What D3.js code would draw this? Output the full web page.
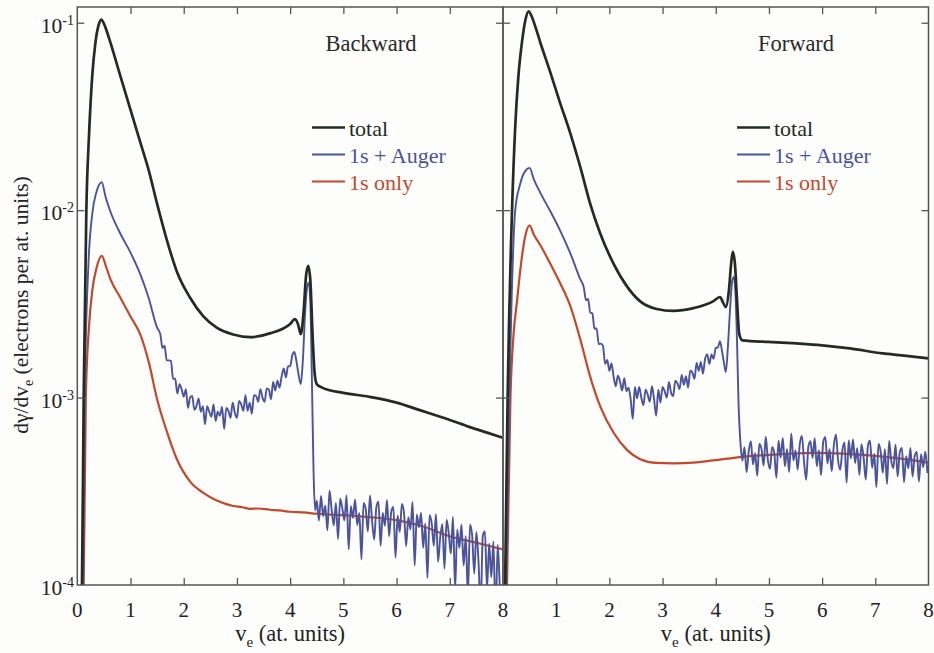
<!DOCTYPE html>
<html>
<head>
<meta charset="utf-8">
<script src="https://cdn.jsdelivr.net/npm/d3@7"></script>
<style>
  body { margin: 0; background: #fdfdfb; }
  svg { display: block; }
</style>
</head>
<body>
<svg id="chart" width="934" height="653" font-family="'Liberation Serif', 'DejaVu Serif', serif"></svg>
<script>
// ---- data ----
const xTicks = [0, 1, 2, 3, 4, 5, 6, 7, 8];
const yTicks = [1e-4, 1e-3, 1e-2, 1e-1];
const yExponents = ['-4', '-3', '-2', '-1'];
const panelTitles = ['Backward', 'Forward'];
const legendLabels = ['total', '1s + Auger', '1s only'];

// Backward
const backTotal = [
  [0.05, 5e-5], [0.088, 1e-4], [0.12, 1e-3], [0.17, 1e-2], [0.22, 0.025], [0.28, 0.0516],
  [0.34, 0.078], [0.40, 0.097], [0.45, 0.104], [0.50, 0.099], [0.56, 0.089], [0.62, 0.0787],
  [0.81, 0.0519], [1.0, 0.0343], [1.19, 0.0227], [1.34, 0.0164], [1.5, 0.0108], [1.69, 0.00682],
  [1.87, 0.00471], [2.12, 0.00341], [2.37, 0.00271], [2.62, 0.00236], [2.93, 0.00217],
  [3.25, 0.0021], [3.62, 0.0022], [4.0, 0.00247], [4.09, 0.00262], [4.15, 0.00245], [4.2, 0.00218],
  [4.25, 0.0028], [4.3, 0.0045], [4.34, 0.00505], [4.38, 0.0042], [4.42, 0.0022], [4.46, 0.00135],
  [4.5, 0.00118], [4.6, 0.00113], [5.0, 0.00106], [5.48, 0.00101], [6.0, 0.00094], [6.42, 0.00086],
  [7.0, 0.00076], [7.35, 0.0007], [7.7, 0.00065], [8.0, 0.00061]
];
const backAuger = [
  [0.05, 5e-5], [0.107, 1e-4], [0.14, 1e-3], [0.21, 5.2e-3], [0.28, 9.5e-3], [0.36, 0.0125],
  [0.46, 0.0141], [0.53, 0.0118], [0.62, 0.00986], [0.81, 0.00748], [1.0, 0.00594], [1.19, 0.0045],
  [1.34, 0.00341], [1.5, 0.00236],
  [1.56, 2.18e-3], [1.60, 1.84e-3], [1.64, 1.89e-3], [1.68, 1.58e-3], [1.72, 1.58e-3], [1.76, 1.57e-3],
  [1.80, 1.26e-3], [1.84, 1.26e-3], [1.88, 1.05e-3], [1.92, 1.18e-3], [1.96, 1.11e-3], [2.00, 1.01e-3],
  [2.04, 1.11e-3], [2.08, 0.88e-3], [2.12, 1.00e-3], [2.16, 1.02e-3], [2.20, 0.86e-3], [2.24, 0.90e-3],
  [2.28, 0.99e-3], [2.32, 0.84e-3], [2.36, 0.90e-3], [2.40, 0.72e-3], [2.44, 0.90e-3], [2.48, 0.84e-3],
  [2.52, 0.79e-3], [2.56, 0.92e-3], [2.60, 0.75e-3], [2.64, 0.84e-3], [2.68, 0.80e-3], [2.72, 0.89e-3],
  [2.76, 0.68e-3], [2.80, 0.88e-3], [2.84, 0.85e-3], [2.88, 0.78e-3], [2.92, 0.94e-3], [2.96, 0.83e-3],
  [3.00, 0.78e-3], [3.04, 0.96e-3], [3.08, 0.92e-3], [3.12, 0.85e-3], [3.16, 1.03e-3], [3.20, 0.85e-3],
  [3.24, 0.94e-3], [3.28, 0.82e-3], [3.32, 1.03e-3], [3.36, 1.02e-3], [3.40, 0.95e-3], [3.44, 1.11e-3],
  [3.48, 1.00e-3], [3.52, 0.95e-3], [3.56, 1.12e-3], [3.60, 1.10e-3], [3.64, 0.98e-3], [3.68, 1.21e-3],
  [3.72, 1.09e-3], [3.76, 1.23e-3], [3.80, 1.13e-3], [3.84, 1.30e-3], [3.88, 1.43e-3], [3.92, 1.28e-3],
  [3.96, 1.47e-3], [4.00, 1.47e-3], [4.04, 1.68e-3], [4.08, 1.75e-3], [4.12, 1.55e-3], [4.16, 1.32e-3],
  [4.20, 1.18e-3], [4.24, 1.6e-3], [4.28, 2.8e-3], [4.32, 3.9e-3], [4.35, 4.1e-3], [4.38, 3.2e-3],
  [4.41, 1.2e-3], [4.44, 4.0e-4], [4.47, 2.5e-4],
  [4.50, 2.82e-4], [4.54, 2.21e-4], [4.58, 2.99e-4], [4.62, 2.33e-4], [4.66, 2.65e-4], [4.70, 1.96e-4],
  [4.74, 3.19e-4], [4.78, 2.52e-4], [4.82, 2.08e-4], [4.86, 2.74e-4], [4.90, 1.76e-4], [4.94, 2.89e-4],
  [4.98, 2.57e-4], [5.02, 2.21e-4], [5.06, 3.00e-4], [5.10, 1.55e-4], [5.14, 2.63e-4], [5.18, 2.28e-4],
  [5.22, 2.86e-4], [5.26, 2.09e-4], [5.30, 2.42e-4], [5.34, 1.37e-4], [5.38, 2.74e-4], [5.42, 2.54e-4],
  [5.46, 1.93e-4], [5.50, 3.00e-4], [5.54, 2.20e-4], [5.58, 1.75e-4], [5.62, 2.60e-4], [5.66, 2.78e-4],
  [5.70, 1.62e-4], [5.74, 2.42e-4], [5.78, 2.07e-4], [5.82, 2.84e-4], [5.86, 1.82e-4], [5.90, 2.46e-4],
  [5.94, 2.61e-4], [5.98, 1.40e-4], [6.02, 2.34e-4], [6.06, 1.92e-4], [6.10, 2.71e-4], [6.14, 2.42e-4],
  [6.18, 1.61e-4], [6.22, 2.30e-4], [6.26, 1.98e-4], [6.30, 2.77e-4], [6.34, 1.27e-4], [6.38, 2.38e-4],
  [6.42, 2.03e-4], [6.46, 2.42e-4], [6.50, 1.58e-4], [6.54, 2.13e-4], [6.58, 1.09e-4], [6.62, 2.36e-4],
  [6.66, 2.13e-4], [6.70, 1.62e-4], [6.74, 2.39e-4], [6.78, 1.33e-4], [6.82, 1.80e-4], [6.86, 2.11e-4],
  [6.90, 1.22e-4], [6.94, 2.23e-4], [6.98, 1.89e-4], [7.02, 1.47e-4], [7.06, 2.31e-4], [7.10, 0.95e-4],
  [7.14, 1.98e-4], [7.18, 1.58e-4], [7.22, 2.10e-4], [7.26, 1.27e-4], [7.30, 1.82e-4], [7.34, 0.87e-4],
  [7.38, 2.10e-4], [7.42, 1.84e-4], [7.46, 1.15e-4], [7.50, 1.92e-4], [7.54, 1.33e-4], [7.58, 0.74e-4],
  [7.62, 1.83e-4], [7.66, 1.93e-4], [7.70, 0.96e-4], [7.74, 1.66e-4], [7.78, 1.10e-4], [7.82, 1.71e-4],
  [7.86, 0.65e-4], [7.90, 1.64e-4], [7.94, 0.98e-4], [7.98, 0.60e-4], [8.0, 0.45e-4]
];
const backOnly = [
  [0.05, 5e-5], [0.12, 1e-4], [0.16, 1e-3], [0.22, 2.4e-3], [0.28, 3.7e-3], [0.36, 4.9e-3],
  [0.46, 5.7e-3], [0.54, 5.0e-3], [0.62, 4.3e-3], [0.81, 3.41e-3], [1.0, 2.71e-3], [1.19, 2.15e-3],
  [1.34, 1.56e-3], [1.5, 9.8e-4], [1.69, 6.5e-4], [1.87, 4.7e-4], [2.12, 3.56e-4], [2.37, 3.1e-4],
  [2.62, 2.82e-4], [2.8, 2.7e-4], [2.93, 2.64e-4], [3.1, 2.6e-4], [3.25, 2.55e-4], [3.4, 2.56e-4],
  [3.62, 2.52e-4], [3.8, 2.5e-4], [4.0, 2.46e-4], [4.25, 2.44e-4], [4.5, 2.4e-4], [5.0, 2.36e-4],
  [5.5, 2.3e-4], [6.0, 2.22e-4], [6.5, 2.05e-4], [7.0, 1.82e-4], [7.5, 1.68e-4], [8.0, 1.55e-4]
];

// Forward
const fwdTotal = [
  [0.02, 5e-5], [0.04, 1e-4], [0.087, 1e-3], [0.17, 1e-2], [0.23, 0.028], [0.29, 0.052],
  [0.36, 0.08], [0.42, 0.103], [0.48, 0.115], [0.54, 0.108], [0.62, 0.093], [0.70, 0.0787],
  [0.89, 0.0543], [1.07, 0.0376], [1.26, 0.026], [1.45, 0.0171], [1.64, 0.0108], [1.83, 0.00748],
  [2.08, 0.00517], [2.33, 0.00392], [2.58, 0.00326], [2.89, 0.00297], [3.2, 0.0029], [3.58, 0.003],
  [3.95, 0.00326], [4.08, 0.00344], [4.14, 0.0032], [4.19, 0.00304], [4.25, 0.0038], [4.29, 0.0052],
  [4.32, 0.006], [4.36, 0.0052], [4.40, 0.0033], [4.44, 0.0022], [4.5, 0.00202], [5.0, 0.00198],
  [5.58, 0.00194], [6.0, 0.0019], [6.52, 0.00183], [7.14, 0.00172], [7.5, 0.00168], [8.0, 0.00162]
];
const fwdAuger = [
  [0.03, 5e-5], [0.06, 1e-4], [0.12, 1e-3], [0.23, 1e-2], [0.32, 0.0137], [0.42, 0.0162],
  [0.5, 0.0168], [0.58, 0.0146], [0.70, 0.0124], [0.89, 0.00986], [1.07, 0.00783], [1.26, 0.00594],
  [1.45, 0.0043],
  [1.52, 3.86e-3], [1.56, 3.31e-3], [1.60, 3.36e-3], [1.64, 2.84e-3], [1.68, 2.81e-3], [1.72, 2.33e-3],
  [1.76, 2.34e-3], [1.80, 1.93e-3], [1.84, 1.94e-3], [1.88, 1.88e-3], [1.92, 1.51e-3], [1.96, 1.59e-3],
  [2.00, 1.39e-3], [2.04, 1.52e-3], [2.08, 1.29e-3], [2.12, 1.15e-3], [2.16, 1.31e-3], [2.20, 1.22e-3],
  [2.24, 1.09e-3], [2.28, 1.27e-3], [2.32, 1.08e-3], [2.36, 1.13e-3], [2.40, 0.98e-3], [2.44, 0.77e-3],
  [2.48, 1.14e-3], [2.52, 0.99e-3], [2.56, 1.14e-3], [2.60, 1.00e-3], [2.64, 0.91e-3], [2.68, 1.10e-3],
  [2.72, 1.04e-3], [2.76, 0.95e-3], [2.80, 1.15e-3], [2.84, 0.98e-3], [2.88, 0.80e-3], [2.92, 1.10e-3],
  [2.96, 0.94e-3], [3.00, 1.14e-3], [3.04, 1.08e-3], [3.08, 1.00e-3], [3.12, 1.21e-3], [3.16, 1.06e-3],
  [3.20, 1.02e-3], [3.24, 1.23e-3], [3.28, 1.19e-3], [3.32, 1.11e-3], [3.36, 1.32e-3], [3.40, 1.17e-3],
  [3.44, 1.30e-3], [3.48, 1.13e-3], [3.52, 1.39e-3], [3.56, 1.36e-3], [3.60, 1.26e-3], [3.64, 1.53e-3],
  [3.68, 1.39e-3], [3.72, 1.55e-3], [3.76, 1.34e-3], [3.80, 1.61e-3], [3.84, 1.70e-3], [3.88, 1.51e-3],
  [3.92, 1.70e-3], [3.96, 1.61e-3], [4.00, 1.84e-3], [4.04, 1.85e-3], [4.08, 2.0e-3], [4.12, 1.75e-3],
  [4.16, 1.5e-3], [4.19, 1.37e-3], [4.23, 1.9e-3], [4.27, 3.0e-3], [4.31, 4.2e-3], [4.34, 4.4e-3],
  [4.37, 3.6e-3], [4.40, 2.0e-3], [4.43, 9e-4], [4.46, 6e-4],
  [4.50, 4.61e-4], [4.54, 5.44e-4], [4.58, 3.99e-4], [4.62, 5.17e-4], [4.66, 5.86e-4], [4.70, 4.40e-4],
  [4.74, 5.05e-4], [4.78, 3.83e-4], [4.82, 5.66e-4], [4.86, 5.31e-4], [4.90, 4.34e-4], [4.94, 6.18e-4],
  [4.98, 4.65e-4], [5.02, 4.16e-4], [5.06, 5.46e-4], [5.10, 5.07e-4], [5.14, 3.73e-4], [5.18, 5.88e-4],
  [5.22, 4.78e-4], [5.26, 6.09e-4], [5.30, 4.30e-4], [5.34, 5.30e-4], [5.38, 4.01e-4], [5.42, 6.43e-4],
  [5.46, 4.62e-4], [5.50, 5.23e-4], [5.54, 4.12e-4], [5.58, 5.64e-4], [5.62, 6.25e-4], [5.66, 4.54e-4],
  [5.70, 3.64e-4], [5.74, 5.45e-4], [5.78, 5.86e-4], [5.82, 4.76e-4], [5.86, 6.07e-4], [5.90, 4.30e-4],
  [5.94, 5.22e-4], [5.98, 3.85e-4], [6.02, 5.78e-4], [6.06, 6.17e-4], [6.10, 4.45e-4], [6.14, 5.30e-4],
  [6.18, 4.04e-4], [6.22, 5.54e-4], [6.26, 6.35e-4], [6.30, 4.63e-4], [6.34, 4.12e-4], [6.38, 5.22e-4],
  [6.42, 5.77e-4], [6.46, 3.51e-4], [6.50, 5.90e-4], [6.54, 4.74e-4], [6.58, 5.98e-4], [6.62, 4.48e-4],
  [6.66, 5.37e-4], [6.70, 3.87e-4], [6.74, 5.64e-4], [6.78, 4.79e-4], [6.82, 3.65e-4], [6.86, 5.51e-4],
  [6.90, 5.90e-4], [6.94, 4.22e-4], [6.98, 5.00e-4], [7.02, 3.33e-4], [7.06, 5.65e-4], [7.10, 5.15e-4],
  [7.14, 3.97e-4], [7.18, 5.31e-4], [7.22, 3.46e-4], [7.26, 5.86e-4], [7.30, 4.59e-4], [7.34, 4.20e-4],
  [7.38, 5.61e-4], [7.42, 3.79e-4], [7.46, 5.10e-4], [7.50, 5.38e-4], [7.54, 3.53e-4], [7.58, 4.87e-4],
  [7.62, 4.19e-4], [7.66, 5.38e-4], [7.70, 3.79e-4], [7.74, 4.88e-4], [7.78, 5.13e-4], [7.82, 3.56e-4],
  [7.86, 4.99e-4], [7.90, 4.25e-4], [7.94, 5.14e-4], [7.98, 3.96e-4]
];
const fwdOnly = [
  [0.04, 5e-5], [0.075, 1e-4], [0.14, 1e-3], [0.2, 2.2e-3], [0.26, 3.2e-3], [0.34, 5.2e-3],
  [0.42, 7.3e-3], [0.5, 8.3e-3], [0.58, 7.4e-3], [0.70, 6.52e-3], [0.89, 5.17e-3], [1.07, 4.1e-3],
  [1.26, 3.11e-3], [1.45, 2.06e-3], [1.64, 1.29e-3], [1.83, 8.95e-4], [2.08, 6.49e-4], [2.33, 5.26e-4],
  [2.58, 4.69e-4], [2.89, 4.48e-4], [3.2, 4.46e-4], [3.58, 4.5e-4], [3.95, 4.62e-4], [4.51, 4.83e-4],
  [5.2, 4.98e-4], [5.89, 5.07e-4], [6.4, 5.02e-4], [6.83, 4.93e-4], [7.4, 4.75e-4], [8.0, 4.5e-4]
];

const panelSeries = [[backTotal, backAuger, backOnly], [fwdTotal, fwdAuger, fwdOnly]];
const seriesColors = ['#232b23', '#4a539c', '#c2492c'];
const seriesWidths = [2.7, 1.9, 2.2];

// ---- layout ----
const svg = d3.select('#chart');
const plotTop = 7, plotBottom = 585;
const panels = [
  { x0: 77.3, x1: 503, legendX: 312, titleX: 371 },
  { x0: 503, x1: 928.5, legendX: 737, titleX: 796 }
];
const y = d3.scaleLog().domain([1e-4, 0.1213]).range([plotBottom, plotTop]);
const frame = '#555';

panels.forEach((p, pi) => {
  const x = d3.scaleLinear().domain([0, 8]).range([p.x0, p.x1]);
  const g = svg.append('g');

  g.append('clipPath').attr('id', 'clip' + pi)
    .append('rect').attr('x', p.x0).attr('y', plotTop).attr('width', p.x1 - p.x0).attr('height', plotBottom - plotTop);

  // curves: red, blue, then black on top
  const line = d3.line().x(d => x(d[0])).y(d => y(d[1])).curve(d3.curveMonotoneX);
  [2, 1, 0].forEach(si => {
    g.append('path')
      .datum(panelSeries[pi][si])
      .attr('clip-path', `url(#clip${pi})`)
      .attr('fill', 'none')
      .attr('stroke', seriesColors[si])
      .attr('stroke-width', seriesWidths[si])
      .attr('stroke-linejoin', 'round')
      .attr('d', line);
  });

  // inward ticks
  const inner = xTicks.slice(1, -1);
  const tickStyle = sel => {
    sel.select('.domain').remove();
    sel.selectAll('line').attr('stroke', frame).attr('stroke-width', 1.3);
  };
  g.append('g').attr('transform', `translate(0,${plotBottom})`)
    .call(d3.axisBottom(x).tickValues(inner).tickSize(-7).tickFormat('')).call(tickStyle);
  g.append('g').attr('transform', `translate(0,${plotTop})`)
    .call(d3.axisTop(x).tickValues(inner).tickSize(-7).tickFormat('')).call(tickStyle);
  g.append('g').attr('transform', `translate(${p.x0},0)`)
    .call(d3.axisLeft(y).tickValues(yTicks.slice(1)).tickSize(-7).tickFormat('')).call(tickStyle);
  g.append('g').attr('transform', `translate(${p.x1},0)`)
    .call(d3.axisRight(y).tickValues(yTicks.slice(1)).tickSize(-7).tickFormat('')).call(tickStyle);

  // frame
  g.append('rect')
    .attr('x', p.x0).attr('y', plotTop).attr('width', p.x1 - p.x0).attr('height', plotBottom - plotTop)
    .attr('fill', 'none').attr('stroke', frame).attr('stroke-width', 1.5);

  // x tick labels
  g.selectAll('.xl')
    .data(pi === 0 ? xTicks : xTicks.slice(1))
    .enter().append('text')
    .attr('x', d => x(d)).attr('y', 617)
    .attr('text-anchor', 'middle').attr('font-size', '21px').attr('fill', '#222')
    .text(d => d);

  // x axis title
  const xt = g.append('text')
    .attr('x', (p.x0 + p.x1) / 2).attr('y', 641)
    .attr('text-anchor', 'middle').attr('font-size', '22.5px').attr('fill', '#222');
  xt.append('tspan').text('v');
  xt.append('tspan').attr('font-size', '15px').attr('dy', 6).text('e');
  xt.append('tspan').attr('dy', -6).text(' (at. units)');

  // panel title
  g.append('text')
    .attr('x', p.titleX).attr('y', 51)
    .attr('text-anchor', 'middle').attr('font-size', '22.5px').attr('fill', '#2a2a2a')
    .text(panelTitles[pi]);

  // legend
  legendLabels.forEach((lab, li) => {
    const ly = 127.5 + li * 27;
    g.append('line')
      .attr('x1', p.legendX).attr('x2', p.legendX + 33)
      .attr('y1', ly).attr('y2', ly)
      .attr('stroke', seriesColors[li]).attr('stroke-width', seriesWidths[li]);
    g.append('text')
      .attr('x', p.legendX + 37).attr('y', ly + 8.5)
      .attr('font-size', '22px').attr('fill', seriesColors[li])
      .text(lab);
  });
});

// y tick labels (left panel only)
yTicks.forEach((t, i) => {
  const ty = y(t);
  const txt = svg.append('text')
    .attr('x', 74).attr('y', ty + 10)
    .attr('text-anchor', 'end').attr('font-size', '21.5px').attr('fill', '#222');
  txt.append('tspan').text('10');
  txt.append('tspan').attr('font-size', '14px').attr('dy', -8).text(yExponents[i]);
});

// y axis title
const yt = svg.append('text')
  .attr('transform', `translate(28,305) rotate(-90)`)
  .attr('text-anchor', 'middle').attr('font-size', '21.5px').attr('fill', '#222');
yt.append('tspan').text('dγ/dv');
yt.append('tspan').attr('font-size', '14px').attr('dy', 5).text('e');
yt.append('tspan').attr('dy', -5).text(' (electrons per at. units)');
</script>
</body>
</html>
